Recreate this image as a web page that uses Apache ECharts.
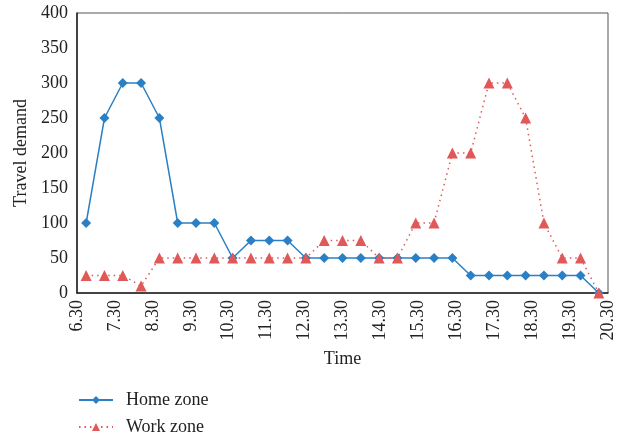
<!DOCTYPE html>
<html>
<head>
<meta charset="utf-8">
<script src="https://cdn.jsdelivr.net/npm/echarts@6/dist/echarts.min.js"></script>
<style>
  html, body { margin: 0; padding: 0; background: #fff; }
  #chart { width: 622px; height: 438px; }
</style>
</head>
<body>
<div id="chart"></div>
<script>
// Half-hour time slots (one point per slot)
const timeSlots = [
  '6.30', '7.00', '7.30', '8.00', '8.30', '9.00', '9.30', '10.00', '10.30',
  '11.00', '11.30', '12.00', '12.30', '13.00', '13.30', '14.00', '14.30',
  '15.00', '15.30', '16.00', '16.30', '17.00', '17.30', '18.00', '18.30',
  '19.00', '19.30', '20.00', '20.30'
];
// Hourly tick labels along the time axis
const hourLabels = [
  '6.30', '7.30', '8.30', '9.30', '10.30', '11.30', '12.30', '13.30',
  '14.30', '15.30', '16.30', '17.30', '18.30', '19.30', '20.30'
];
const homeZone = [
  100, 250, 300, 300, 250, 100, 100, 100, 50, 75, 75, 75, 50, 50, 50,
  50, 50, 50, 50, 50, 50, 25, 25, 25, 25, 25, 25, 25, 0
];
const workZone = [
  25, 25, 25, 10, 50, 50, 50, 50, 50, 50, 50, 50, 50, 75, 75,
  75, 50, 50, 100, 100, 200, 200, 300, 300, 250, 100, 50, 50, 0
];

const FONT = '"Liberation Serif", "DejaVu Serif", serif';
const BLUE = '#2b80c5';
const RED = '#e05858';
const TEXT = '#222';

function legendRow(name, top) {
  return {
    orient: 'vertical', left: 78, top: top, padding: 0,
    itemWidth: 34, itemHeight: 10,
    textStyle: { fontFamily: FONT, fontSize: 18, color: TEXT, padding: [0, 0, 0, 8] },
    data: [name]
  };
}

const chart = echarts.init(document.getElementById('chart'), null, { renderer: 'canvas' });
chart.setOption({
  animation: false,
  textStyle: { fontFamily: FONT, color: TEXT },
  grid: {
    left: 77, right: 14, top: 13, bottom: 145,
    show: true, borderColor: '#555', borderWidth: 1, backgroundColor: 'transparent'
  },
  legend: [legendRow('Home zone', 391), legendRow('Work zone', 418)],
  xAxis: [
    {
      type: 'category', data: timeSlots, boundaryGap: true,
      axisLine: { show: true, lineStyle: { color: TEXT, width: 1.5 } },
      axisTick: { show: false }, axisLabel: { show: false }, splitLine: { show: false }
    },
    {
      type: 'category', data: hourLabels, boundaryGap: false, position: 'bottom',
      name: 'Time', nameLocation: 'middle', nameGap: 57,
      nameTextStyle: { fontFamily: FONT, fontSize: 18, color: TEXT },
      axisLine: { show: false }, axisTick: { show: false },
      axisLabel: { rotate: 90, fontSize: 18, color: TEXT, fontFamily: FONT, margin: 7, interval: 0 },
      splitLine: { show: false }
    }
  ],
  yAxis: {
    type: 'value', min: 0, max: 400, interval: 50,
    name: 'Travel demand', nameLocation: 'middle', nameGap: 36, nameRotate: 90,
    nameTextStyle: { fontFamily: FONT, fontSize: 18, color: TEXT },
    axisLine: { show: true, lineStyle: { color: TEXT, width: 1.5 } },
    axisTick: { show: false },
    axisLabel: { fontSize: 18, color: TEXT, fontFamily: FONT, margin: 9 },
    splitLine: { show: false }
  },
  series: [
    {
      name: 'Home zone', type: 'line', xAxisIndex: 0, data: homeZone,
      symbol: 'diamond', symbolSize: 10,
      lineStyle: { color: BLUE, width: 1.5 },
      itemStyle: { color: BLUE }
    },
    {
      name: 'Work zone', type: 'line', xAxisIndex: 0, data: workZone,
      symbol: 'triangle', symbolSize: 11,
      lineStyle: { color: RED, width: 1.5, type: [1.5, 4] },
      itemStyle: { color: RED }
    }
  ]
});
</script>
</body>
</html>
